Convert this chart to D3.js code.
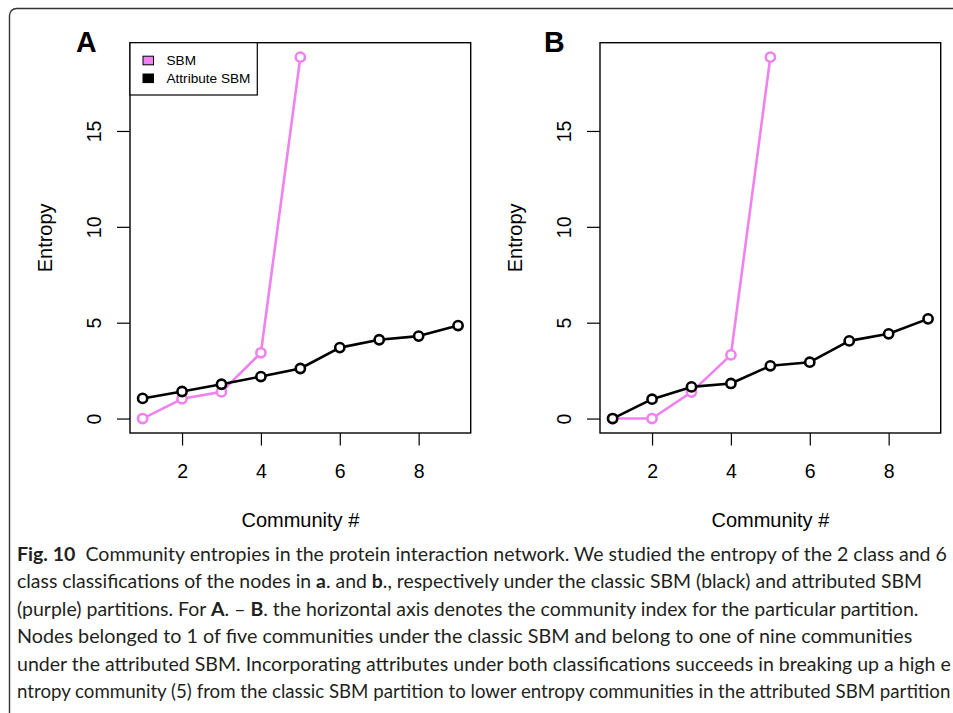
<!DOCTYPE html>
<html>
<head>
<meta charset="utf-8">
<script src="https://cdn.jsdelivr.net/npm/d3@7/dist/d3.min.js"></script>
<style>
  html, body { margin: 0; padding: 0; background: #fff; }
  svg { display: block; }
</style>
</head>
<body>
<svg id="chart" width="953" height="713"></svg>
<script>
// ---------------- data ----------------
const communitiesSBM = [1, 2, 3, 4, 5];
const communitiesAttr = [1, 2, 3, 4, 5, 6, 7, 8, 9];
const sbmA  = [0, 1.03, 1.39, 3.43, 18.85];
const attrA = [1.05, 1.41, 1.79, 2.19, 2.61, 3.70, 4.11, 4.30, 4.85];
const sbmB  = [0, 0, 1.38, 3.32, 18.85];
const attrB = [0, 1.01, 1.65, 1.83, 2.75, 2.94, 4.05, 4.42, 5.20];
const xTicks = [2, 4, 6, 8];
const yTicks = [0, 5, 10, 15];
const panelLabels = ["A", "B"];
const legendLabels = ["SBM", "Attribute SBM"];
const xTitle = "Community #";
const yTitle = "Entropy";
const captionLines = [
  [["Fig. 10", true], ["  Community entropies in the protein interaction network. We studied the entropy of the 2 class and 6", false]],
  [["class classifications of the nodes in ", false], ["a", true], [". and ", false], ["b", true], ["., respectively under the classic SBM (black) and attributed SBM", false]],
  [["(purple) partitions. For ", false], ["A", true], [". \u2013 ", false], ["B", true], [". the horizontal axis denotes the community index for the particular partition.", false]],
  [["Nodes belonged to 1 of five communities under the classic SBM and belong to one of nine communities", false]],
  [["under the attributed SBM. Incorporating attributes under both classifications succeeds in breaking up a high e", false]],
  [["ntropy community (5) from the classic SBM partition to lower entropy communities in the attributed SBM partition", false]]
];
const captionEnds = [948, 923, 919, 913, 951, 951];

// ---------------- style ----------------
const pink = "#EE82EE";
const plotFont = "'Liberation Sans', Arial, Helvetica, sans-serif";
const svg = d3.select("#chart");

// outer frame
svg.append("rect")
  .attr("x", 9.5).attr("y", 8.5)
  .attr("width", 1100).attr("height", 900)
  .attr("rx", 7)
  .attr("fill", "none").attr("stroke", "#333").attr("stroke-width", 1.4);

const panels = [
  { label: panelLabels[0], sbm: sbmA, attr: attrA, dx: 0, legend: true },
  { label: panelLabels[1], sbm: sbmB, attr: attrB, dx: 470, legend: false }
];

const allVals = sbmA.concat(attrA, sbmB, attrB);
const yMin = d3.min(allVals), yMax = d3.max(allVals);
const yPad = (yMax - yMin) * 0.04;
const xMin = d3.min(communitiesAttr), xMax = d3.max(communitiesAttr);
const xPad = (xMax - xMin) * 0.04;

panels.forEach(p => {
  const left = 130 + p.dx, right = 470.7 + p.dx, top = 42.7, bottom = 433;
  const x = d3.scaleLinear().domain([xMin - xPad, xMax + xPad]).range([left, right]);
  const y = d3.scaleLinear().domain([yMin - yPad, yMax + yPad]).range([bottom, top]);
  const g = svg.append("g");

  // y axis
  const ya = g.append("g").attr("transform", `translate(${left},0)`)
    .call(d3.axisLeft(y).tickValues(yTicks).tickSize(13).tickFormat(d3.format("d")));
  ya.select(".domain").remove();
  ya.selectAll(".tick line").attr("stroke", "#000").attr("stroke-width", 1.2);
  ya.selectAll(".tick text")
    .attr("x", 0).attr("y", -29.5).attr("dy", 0)
    .attr("text-anchor", "middle")
    .attr("transform", "rotate(-90)")
    .attr("font-family", plotFont).attr("font-size", 19.5).attr("fill", "#000");

  // x axis
  const xa = g.append("g").attr("transform", `translate(0,${bottom})`)
    .call(d3.axisBottom(x).tickValues(xTicks).tickSize(12.5).tickFormat(d3.format("d")));
  xa.select(".domain").remove();
  xa.selectAll(".tick line").attr("stroke", "#000").attr("stroke-width", 1.2);
  xa.selectAll(".tick text")
    .attr("y", 45.3).attr("dy", 0)
    .attr("font-family", plotFont).attr("font-size", 19.5).attr("fill", "#000");

  // titles
  g.append("text")
    .attr("x", (left + right) / 2).attr("y", 527)
    .attr("text-anchor", "middle")
    .attr("font-family", plotFont).attr("font-size", 20).attr("fill", "#000")
    .text(xTitle);
  g.append("text")
    .attr("transform", `translate(${52 + p.dx},${(top + bottom) / 2}) rotate(-90)`)
    .attr("text-anchor", "middle")
    .attr("font-family", plotFont).attr("font-size", 20).attr("fill", "#000")
    .text(yTitle);

  // panel label
  g.append("text")
    .attr("x", 76 + p.dx - (p.dx ? 2 : 0)).attr("y", 52.3)
    .attr("font-family", plotFont).attr("font-size", 28.6).attr("font-weight", "bold").attr("fill", "#000")
    .text(p.label);

  // lines
  const line = d3.line().x(d => x(d[0])).y(d => y(d[1]));
  const sbmPts = communitiesSBM.map((c, i) => [c, p.sbm[i]]);
  const attrPts = communitiesAttr.map((c, i) => [c, p.attr[i]]);

  [[sbmPts, pink], [attrPts, "#000"]].forEach(([pts, col]) => {
    g.append("path").datum(pts)
      .attr("d", line)
      .attr("fill", "none").attr("stroke", col).attr("stroke-width", 2.6)
      .attr("stroke-linejoin", "round");
    g.selectAll(null).data(pts).enter().append("circle")
      .attr("cx", d => x(d[0])).attr("cy", d => y(d[1]))
      .attr("r", 4.6)
      .attr("fill", "#fff").attr("stroke", col).attr("stroke-width", 2.6);
  });

  // box
  g.append("rect")
    .attr("x", left).attr("y", top)
    .attr("width", right - left).attr("height", bottom - top)
    .attr("fill", "none").attr("stroke", "#000").attr("stroke-width", 1.4);

  // legend
  if (p.legend) {
    const lg = g.append("g");
    lg.append("rect")
      .attr("x", left).attr("y", top)
      .attr("width", 127.3).attr("height", 52.3)
      .attr("fill", "#fff").attr("stroke", "#000").attr("stroke-width", 1.2);
    [pink, "#000"].forEach((c, i) => {
      lg.append("rect")
        .attr("x", left + 13).attr("y", 56.2 + i * 17.8)
        .attr("width", 10.5).attr("height", 8.6)
        .attr("fill", c).attr("stroke", "#000").attr("stroke-width", 1);
      lg.append("text")
        .attr("x", left + 36.5).attr("y", 65.4 + i * 17.8)
        .attr("font-family", plotFont).attr("font-size", 13.6).attr("fill", "#000")
        .text(legendLabels[i]);
    });
  }
});

// ---------------- caption ----------------
const capFont = "Lato, 'Open Sans', 'Noto Sans', sans-serif";
captionLines.forEach((parts, i) => {
  const baseY = 561 + i * 27.4;
  const t = svg.append("text")
    .attr("x", 0).attr("y", 0)
    .attr("font-family", capFont).attr("font-size", 19.5).attr("fill", "#231f20")
    .attr("xml:space", "preserve")
    .style("white-space", "pre");
  parts.forEach(([str, bold]) => {
    t.append("tspan").attr("font-weight", bold ? "bold" : "normal").text(str);
  });
  const w = t.node().getComputedTextLength();
  const s = (captionEnds[i] - 17) / w;
  t.attr("transform", `translate(17,${baseY}) scale(${s},1)`);
});
</script>
</body>
</html>
